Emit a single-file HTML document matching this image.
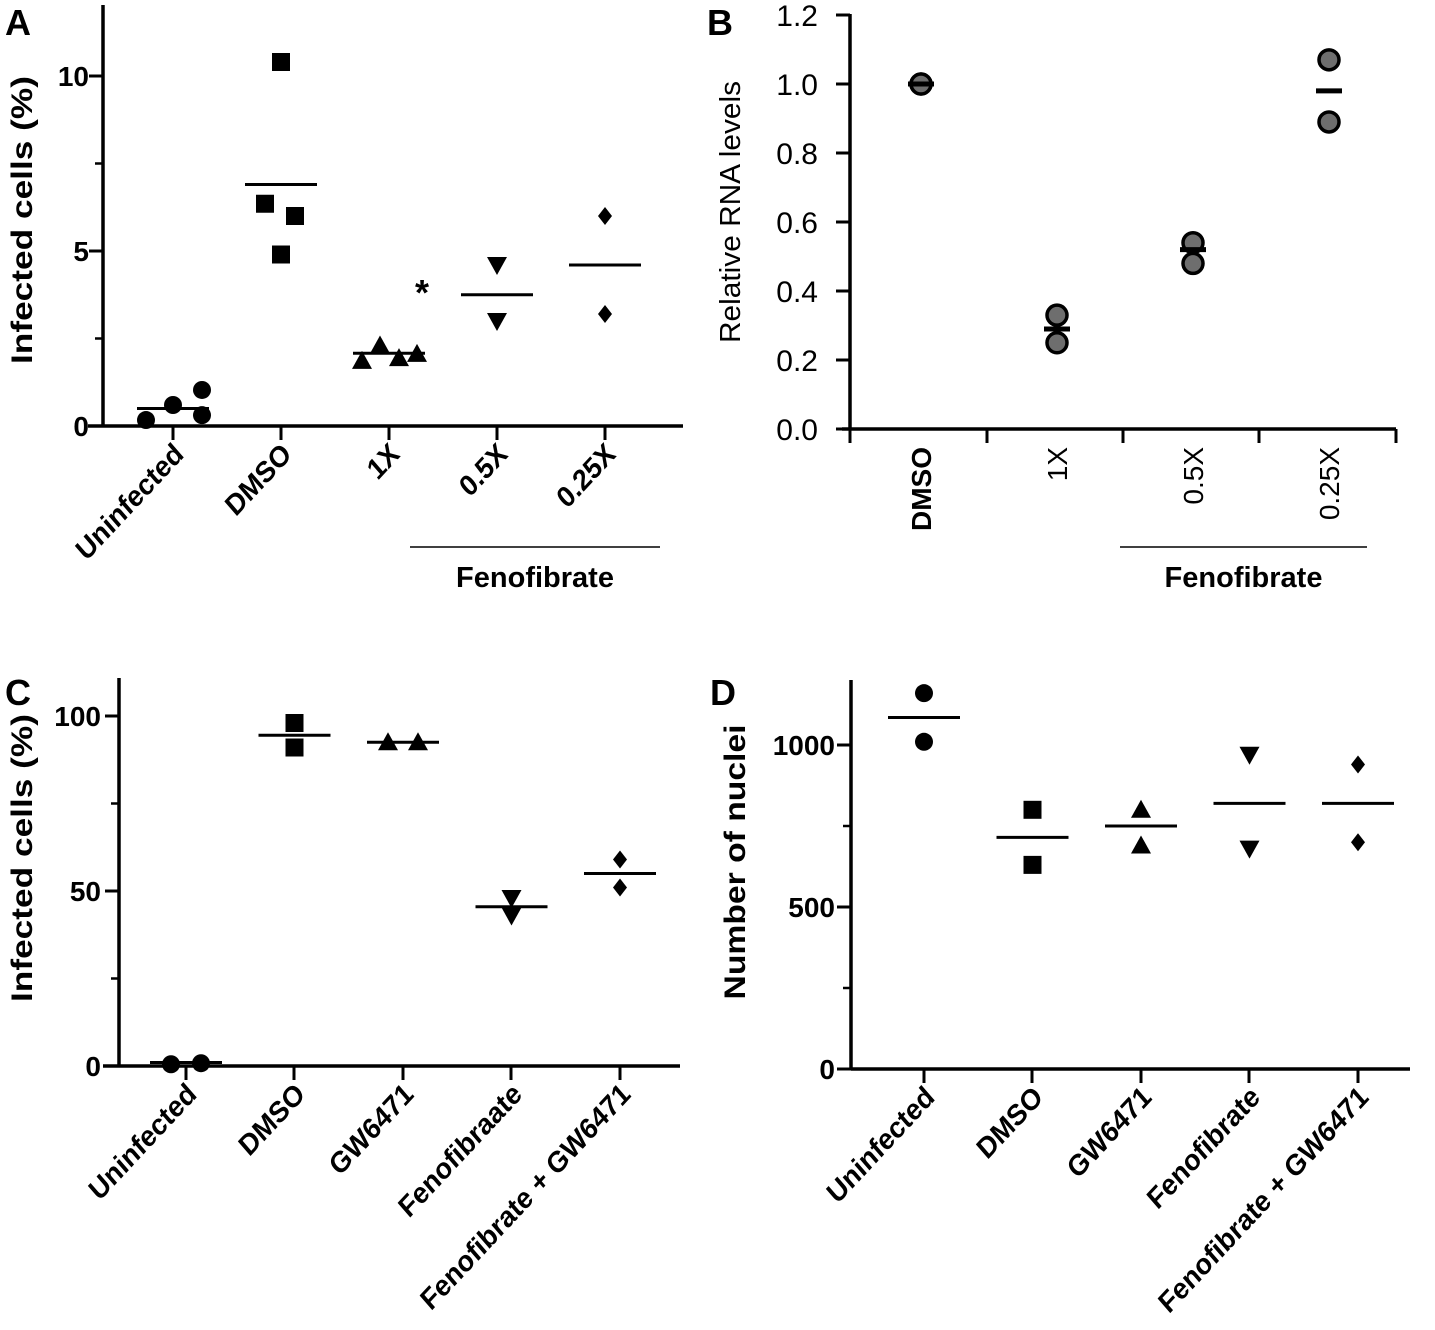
<!DOCTYPE html>
<html><head><meta charset="utf-8">
<style>
html,body{margin:0;padding:0;background:#fff;}
svg{display:block;font-family:"Liberation Sans",Arial,sans-serif;}
</style></head>
<body>
<svg id="fig" width="1435" height="1330" viewBox="0 0 1435 1330" xmlns="http://www.w3.org/2000/svg"></svg>
<script>
// ---- Panel A data ----
const aCats = ["Uninfected","DMSO","1X","0.5X","0.25X"];
const aVals = [[0.17,0.6,1.03,0.31],[10.4,6.35,6.0,4.9],[1.86,2.3,1.94,2.06],[4.6,3.0],[6.0,3.2]];
const aMeans = [0.5,6.9,2.08,3.75,4.6];
const aOffsets = [[-27,0,29,29],[0,-16,14,0],[-27,-9,10,28],[0,0],[0,0]];
const aTicks = [0,5,10];
const aMinor = [2.5,7.5];
// ---- Panel B data ----
const bCats = ["DMSO","1X","0.5X","0.25X"];
const bVals = [[1.0,1.0],[0.33,0.25],[0.54,0.48],[1.07,0.89]];
const bMeans = [1.0,0.29,0.52,0.98];
const bTicks = ["0.0","0.2","0.4","0.6","0.8","1.0","1.2"];
// ---- Panel C data ----
const cCats = ["Uninfected","DMSO","GW6471","Fenofibraate","Fenofibrate + GW6471"];
const cVals = [[0.5,0.8],[98,91],[92.5,92.5],[48,43],[59,51]];
const cMeans = [1,94.5,92.5,45.5,55];
const cOffsets = [[-15,15],[0,0],[-15,15],[0,0],[0,0]];
const cTicks = [0,50,100];
const cMinor = [25,75];
// ---- Panel D data ----
const dCats = ["Uninfected","DMSO","GW6471","Fenofibrate","Fenofibrate + GW6471"];
const dVals = [[1160,1010],[800,630],[800,690],[970,680],[940,700]];
const dMeans = [1085,715,750,820,820];
const dTicks = [0,500,1000];
const dMinor = [250,750];
const markers = ["circle","square","triangle","down","diamond"];

const NS="http://www.w3.org/2000/svg";
const svg=document.getElementById('fig');
function el(tag,attrs,parent,text){const e=document.createElementNS(NS,tag);for(const k in attrs)e.setAttribute(k,attrs[k]);if(text!==undefined)e.textContent=text;(parent||svg).appendChild(e);return e;}

function marker(g,type,x,y){
  let e;
  if(type==="circle"){e=el('circle',{cx:x,cy:y,r:9,fill:'#000'},g);}
  else if(type==="square"){e=el('rect',{x:x-9,y:y-9,width:18,height:18,fill:'#000'},g);}
  else if(type==="triangle"){e=el('polygon',{points:`${x},${y-10} ${x+10},${y+8} ${x-10},${y+8}`,fill:'#000'},g);}
  else if(type==="down"){e=el('polygon',{points:`${x-10},${y-8} ${x+10},${y-8} ${x},${y+10}`,fill:'#000'},g);}
  else {e=el('polygon',{points:`${x},${y-9} ${x+7},${y} ${x},${y+9} ${x-7},${y}`,fill:'#000'},g);}
  
  
  return e;
}

function panel(cfg){
  const g=el('g',{});
  
  
  const y=v=>cfg.y0-(v-cfg.vmin)/(cfg.vmax-cfg.vmin)*(cfg.y0-cfg.yTop);
  const xs=i=>cfg.xFirst+i*cfg.xStep;
  const ya=el('line',{x1:cfg.ax,y1:cfg.axTop,x2:cfg.ax,y2:cfg.y0+1.5,stroke:'#000','stroke-width':3.5},g);
  
  const xa=el('line',{x1:cfg.axLeft,y1:cfg.y0,x2:cfg.axRight,y2:cfg.y0,stroke:'#000','stroke-width':3.5},g);
  
  cfg.ticks.forEach(t=>{
    const v=parseFloat(t);
    el('line',{x1:cfg.ax-14,y1:y(v),x2:cfg.ax,y2:y(v),stroke:'#000','stroke-width':3},g);
    const tl=el('text',{x:cfg.ax-cfg.tickGap,y:y(v)+cfg.tickSize*0.36,'text-anchor':'end','font-size':cfg.tickSize,'font-weight':cfg.tickWeight},g,t);
    
  });
  (cfg.minor||[]).forEach(v=>{el('line',{x1:cfg.ax-8,y1:y(v),x2:cfg.ax,y2:y(v),stroke:'#000','stroke-width':2.5},g);});
  cfg.xTicks.forEach(x=>{el('line',{x1:x,y1:cfg.y0,x2:x,y2:cfg.y0+14,stroke:'#000','stroke-width':3},g);});
  cfg.cats.forEach((c,i)=>{
    const x=xs(i);
    let t;
    if(cfg.vertical){
      t=el('text',{x:0,y:0,'text-anchor':'end','font-size':28,'font-weight':i===0?'bold':'normal',transform:`translate(${x+10},${cfg.y0+18}) rotate(-90)`},g,c);
    } else {
      t=el('text',{x:0,y:0,'text-anchor':'end','font-size':28,'font-weight':'bold',transform:`translate(${x+12},${cfg.y0+30}) rotate(-47) skewX(-6)`},g,c);
    }
    
  });
  cfg.vals.forEach((arr,i)=>{
    arr.forEach((v,j)=>{
      const off=cfg.offsets?cfg.offsets[i][j]:0;
      if(cfg.gray){
        const c=el('circle',{cx:xs(i),cy:y(v),r:10,fill:'#6e6e6e',stroke:'#000','stroke-width':3.5},g);
        
      } else marker(g,cfg.markers[i],xs(i)+off,y(v));
    });
    const m=cfg.means[i], w=cfg.meanW;
    const ml=el('line',{x1:xs(i)-w/2,y1:y(m),x2:xs(i)+w/2,y2:y(m),stroke:'#000','stroke-width':cfg.meanT},g);
    
  });
  const yt=el('text',{x:0,y:0,'text-anchor':'middle','font-size':cfg.titleSize,'font-weight':cfg.titleWeight,textLength:cfg.titleLen,lengthAdjust:'spacingAndGlyphs',transform:`translate(${cfg.titleX},${cfg.titleY}) rotate(-90)`},g,cfg.title);
  
  const pl=el('text',{x:cfg.letterX,y:cfg.letterY,'font-size':36,'font-weight':'bold'},g,cfg.letter);
  
  if(cfg.group){
    const gl=el('line',{x1:cfg.group[0],y1:547,x2:cfg.group[1],y2:547,stroke:'#000','stroke-width':1.5},g);
    
    const gt=el('text',{x:(cfg.group[0]+cfg.group[1])/2,y:587,'text-anchor':'middle','font-size':29,'font-weight':'bold'},g,'Fenofibrate');
    
  }
}

panel({name:'panel-a',letter:'A',letterX:5,letterY:35,ax:103,axTop:5,axLeft:88,axRight:683,y0:426,yTop:76,vmin:0,vmax:10,
  ticks:aTicks.map(String),minor:aMinor,tickSize:28,tickGap:14,tickWeight:'bold',xFirst:173,xStep:108,xTicks:[173,281,389,497,605],
  cats:aCats,vals:aVals,means:aMeans,offsets:aOffsets,markers:markers.slice(0,5),meanW:72,meanT:3,
  title:'Infected cells (%)',titleSize:30,titleLen:288,titleWeight:'bold',titleX:32,titleY:220,group:[410,660]});
const asx=el('text',{x:422,y:305,'text-anchor':'middle','font-size':36,'font-weight':'bold'},svg,'*');


panel({name:'panel-b',letter:'B',letterX:707,letterY:35,ax:850,axTop:14,axLeft:842,axRight:1396,y0:429,yTop:15,vmin:0,vmax:1.2,
  ticks:bTicks,tickSize:30,tickGap:32,tickWeight:'normal',xFirst:921,xStep:136,xTicks:[850,987,1123,1259,1396],
  cats:bCats,vals:bVals,means:bMeans,gray:true,meanW:26,meanT:5,vertical:true,
  title:'Relative RNA levels',titleSize:29,titleLen:262,titleWeight:'normal',titleX:740,titleY:212,group:[1120,1367]});

panel({name:'panel-c',letter:'C',letterX:5,letterY:705,ax:119,axTop:678,axLeft:103,axRight:680,y0:1066,yTop:716,vmin:0,vmax:100,
  ticks:cTicks.map(String),minor:cMinor,tickSize:28,tickGap:18,tickWeight:'bold',xFirst:186,xStep:108.5,xTicks:[186,294,403,511,620],
  cats:cCats,vals:cVals,means:cMeans,offsets:cOffsets,markers:markers,meanW:72,meanT:3,
  title:'Infected cells (%)',titleSize:30,titleLen:288,titleWeight:'bold',titleX:32,titleY:858});

panel({name:'panel-d',letter:'D',letterX:710,letterY:705,ax:851,axTop:680,axLeft:851,axRight:1410,y0:1069,yTop:745,vmin:0,vmax:1000,
  ticks:dTicks.map(String),minor:dMinor,tickSize:28,tickGap:16,tickWeight:'bold',xFirst:924,xStep:108.5,xTicks:[924,1032,1141,1249,1358],
  cats:dCats,vals:dVals,means:dMeans,markers:markers,meanW:72,meanT:3,
  title:'Number of nuclei',titleSize:30,titleLen:275,titleWeight:'bold',titleX:745,titleY:862});
</script>
</body></html>
